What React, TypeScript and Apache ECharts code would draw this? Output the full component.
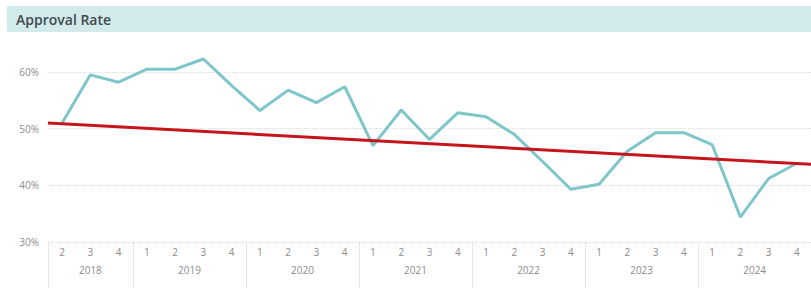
import React, { useEffect, useRef } from "react";
import * as echarts from "echarts";

const periods = [
  "2018 Q2", "2018 Q3", "2018 Q4",
  "2019 Q1", "2019 Q2", "2019 Q3", "2019 Q4",
  "2020 Q1", "2020 Q2", "2020 Q3", "2020 Q4",
  "2021 Q1", "2021 Q2", "2021 Q3", "2021 Q4",
  "2022 Q1", "2022 Q2", "2022 Q3", "2022 Q4",
  "2023 Q1", "2023 Q2", "2023 Q3", "2023 Q4",
  "2024 Q1", "2024 Q2", "2024 Q3", "2024 Q4",
];

const approvalRate = [
  51.0, 59.5, 58.2,
  60.5, 60.5, 62.3, 57.6,
  53.2, 56.8, 54.6, 57.4,
  47.0, 53.3, 48.1, 52.8,
  52.1, 49.0, 44.2, 39.3,
  40.2, 46.0, 49.3, 49.3,
  47.2, 34.4, 41.2, 43.9,
];

// trend line values at the left and right edges of the plot
const trendEnds = [51.0, 43.7];

const yTicks = [30, 40, 50, 60];

export default function App() {
  const ref = useRef<HTMLDivElement>(null);

  useEffect(() => {
    document.body.style.margin = "0";
    const chart = echarts.init(ref.current!, null, { renderer: "svg" });

    const yearOf = (p: string) => p.split(" ")[0];
    const quarterOf = (p: string) => p.split(" ")[1].replace("Q", "");

    // first index of each year, and the label position for each year
    const firstIdx: number[] = [];
    periods.forEach((p, i) => {
      if (i === 0 || yearOf(periods[i - 1]) !== yearOf(p)) firstIdx.push(i);
    });
    const labelInfo: Record<number, { year: string; shift: boolean }> = {};
    firstIdx.forEach((start, k) => {
      const end = k + 1 < firstIdx.length ? firstIdx[k + 1] : periods.length;
      const n = end - start;
      const idx = start + Math.floor((n - 1) / 2);
      labelInfo[idx] = { year: yearOf(periods[start]), shift: n % 2 === 0 };
    });

    const n = periods.length;
    const gridLeft = 48;
    const step = 28.6;

    chart.setOption({
      animation: false,
      textStyle: { fontFamily: "Open Sans" },
      graphic: [
        {
          type: "rect",
          shape: { x: 7, y: 6, width: 804, height: 26 },
          style: { fill: "#d3eaec" },
          silent: true,
        },
        {
          type: "text",
          x: 16,
          y: 19,
          style: {
            text: "Approval Rate",
            fill: "#3e4a4c",
            font: "600 14px 'Open Sans'",
            verticalAlign: "middle",
          },
        },
      ],
      grid: {
        left: gridLeft,
        top: 72,
        width: n * step,
        height: 170,
      },
      xAxis: [
        {
          type: "category",
          data: periods,
          boundaryGap: true,
          axisLine: { show: false },
          axisTick: { show: false },
          splitLine: { show: false },
          axisLabel: {
            interval: 0,
            margin: 5,
            color: "#8c8c8c",
            fontSize: 10,
            formatter: (v: string) => quarterOf(v),
          },
        },
        {
          type: "category",
          data: periods,
          position: "bottom",
          boundaryGap: true,
          axisLine: { show: false },
          axisTick: {
            show: true,
            interval: (i: number) => firstIdx.indexOf(i) >= 0,
            length: 46,
            lineStyle: { color: "#d0d0d0", type: "dotted", width: 1 },
          },
          axisLabel: {
            interval: (i: number) => labelInfo[i] !== undefined,
            margin: 23,
            color: "#8c8c8c",
            fontSize: 10,
            formatter: (_v: string, i: number) => {
              const info = labelInfo[i];
              if (!info) return "";
              return info.shift ? `{s|${info.year}}` : `{n|${info.year}}`;
            },
            rich: {
              s: { padding: [0, 0, 0, step], fontSize: 10, color: "#8c8c8c" },
              n: { fontSize: 10, color: "#8c8c8c" },
            },
          },
        },
        {
          type: "value",
          show: false,
          min: -0.5,
          max: n - 0.5,
        },
      ],
      yAxis: {
        type: "value",
        min: yTicks[0],
        max: yTicks[yTicks.length - 1],
        interval: 10,
        axisLine: { show: false },
        axisTick: { show: false },
        axisLabel: {
          formatter: "{value}%",
          color: "#8c8c8c",
          fontSize: 10,
          margin: 9,
        },
        splitLine: {
          lineStyle: { color: "#dcdcdc", type: "dotted", width: 1 },
        },
      },
      series: [
        {
          type: "line",
          xAxisIndex: 0,
          data: approvalRate,
          symbol: "none",
          clip: false,
          lineStyle: { color: "#7ec6ca", width: 3 },
        },
        {
          type: "line",
          xAxisIndex: 2,
          data: [
            [-0.5, trendEnds[0]],
            [n - 0.5, trendEnds[1]],
          ],
          symbol: "none",
          clip: false,
          lineStyle: { color: "#c4161c", width: 3 },
        },
      ],
    });

    return () => chart.dispose();
  }, []);

  return <div ref={ref} style={{ width: 811, height: 291 }} />;
}
